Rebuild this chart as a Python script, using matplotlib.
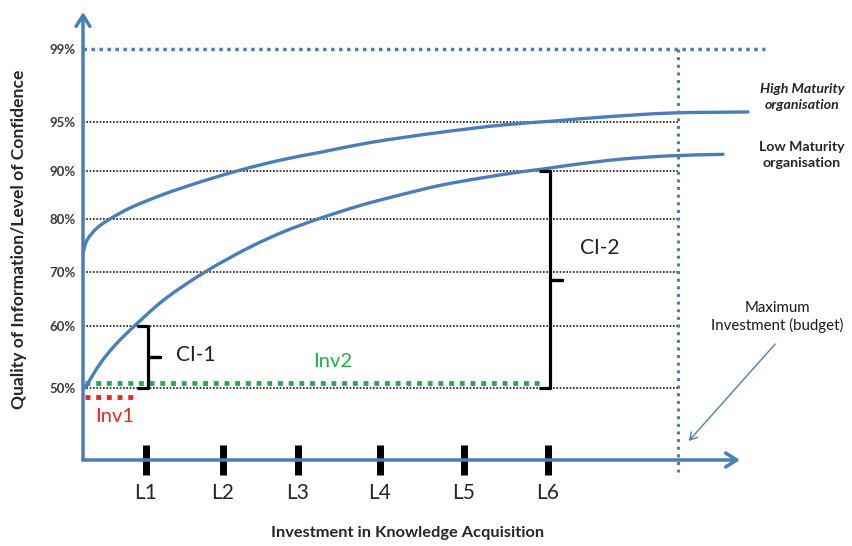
import numpy as np
import matplotlib
matplotlib.use('Agg')
import matplotlib.pyplot as plt
from matplotlib.path import Path
from matplotlib.patches import PathPatch, FancyArrowPatch

# ---------------- data ----------------
levels_pct = [50, 60, 70, 80, 90, 95, 99]
level_labels = ['50%', '60%', '70%', '80%', '90%', '95%', '99%']
stage_labels = ['L1', 'L2', 'L3', 'L4', 'L5', 'L6']
stage_invest = [63, 140, 215, 297, 381, 465]
budget_invest = 595

high_x = [0, 4, 14, 27, 47, 80, 114, 154, 197, 237, 287, 354, 420, 470, 520, 587, 665]
high_y = [73.6, 76.0, 78.3, 80.0, 82.3, 85.1, 87.5, 90.0, 91.1, 91.9, 92.9, 93.9, 94.7, 95.05, 95.27, 95.49, 95.55]
low_x = [2, 17, 32, 52, 82, 122, 167, 202, 235, 277, 317, 357, 397, 437, 460, 487, 537, 587, 640]
low_y = [50.0, 53.9, 56.9, 60.1, 65.0, 70.0, 74.7, 77.7, 80.0, 82.8, 85.0, 87.0, 88.5, 89.8, 90.2, 90.6, 91.2, 91.55, 91.7]

inv1_x = [2, 54]
inv1_level = 48.7
inv2_x = [2, 462]
inv2_level = 50.8
ci1 = (50, 60)   # at L1
ci2 = (50, 90)   # at L6

# ------------- layout / style -------------
W, H = 852, 546
BLUE = '#4A7EBB'
GREEN = '#1DB04B'
RED = '#EE2424'
TXT = '#262626'
plt.rcParams['font.family'] = ['Lato', 'DejaVu Sans']

# non-uniform vertical axis of the original diagram
SCALE_PCT = [30, 40, 50, 60, 70, 80, 90, 95, 99, 100, 110]
SCALE_POS = [-72, 0, 72, 134, 188, 241, 289, 338, 411, 448, 818]
fwd = lambda v: np.interp(v, SCALE_PCT, SCALE_POS)
inv = lambda p: np.interp(p, SCALE_POS, SCALE_PCT)

fig = plt.figure(figsize=(W / 100, H / 100), dpi=100)
ax = fig.add_axes([83 / W, (H - 460) / H, 690 / W, 448 / H])
ax.set_yscale('function', functions=(fwd, inv))
ax.set_xlim(0, 690)
ax.set_ylim(40, 100)
for s in ax.spines.values():
    s.set_visible(False)
scaled_to_display = ax.transLimits + ax.transAxes


def smooth_curve(xs, ys, **kw):
    """Draw a smooth (chord-length Catmull-Rom / cubic Bezier) curve through the points."""
    P = np.column_stack([np.asarray(xs, float), fwd(np.asarray(ys, float))])
    n = len(P)
    d = np.r_[0, np.cumsum(np.hypot(*np.diff(P, axis=0).T))]
    T = np.zeros_like(P)
    for i in range(n):
        a, b = max(i - 1, 0), min(i + 1, n - 1)
        T[i] = (P[b] - P[a]) / (d[b] - d[a])
    verts = [P[0]]
    codes = [Path.MOVETO]
    for i in range(n - 1):
        h = d[i + 1] - d[i]
        verts += [P[i] + T[i] * h / 3, P[i + 1] - T[i + 1] * h / 3, P[i + 1]]
        codes += [Path.CURVE4] * 3
    ax.add_patch(PathPatch(Path(verts, codes), fill=False, transform=scaled_to_display,
                           capstyle='round', **kw))


# grid lines
for lv in levels_pct[:-1]:
    ax.plot([0, budget_invest], [lv, lv], color='#1a1a1a', lw=1.2,
            linestyle=(0, (1, 1)), zorder=1)
ax.plot([0, 682], [99, 99], color=BLUE, lw=2.5, linestyle=(0, (1, 1.3)), zorder=1)
ax.plot([budget_invest, budget_invest], [99, 38.3], color=BLUE, lw=2.2,
        linestyle=(0, (1, 1.5)), zorder=1, clip_on=False)

# investment lines
ax.plot(inv2_x, [inv2_level] * 2, color=GREEN, lw=3.5, linestyle=(0, (1, 1.2)), zorder=3)
ax.plot(inv1_x, [inv1_level] * 2, color=RED, lw=3.5, linestyle=(0, (1, 1.2)), zorder=3,
        clip_on=False)

# curves
smooth_curve(high_x, high_y, edgecolor=BLUE, lw=2.4, zorder=4)
smooth_curve(low_x, low_y, edgecolor=BLUE, lw=2.4, zorder=4)

# axes arrows
for tip in [(0, 100), (657, 40)]:
    ax.annotate('', xy=tip, xytext=(0, 40), xycoords='data',
                arrowprops=dict(arrowstyle='->,head_length=0.8,head_width=0.5', lw=2.5,
                                color=BLUE, shrinkA=0, shrinkB=0),
                annotation_clip=False, zorder=5)


def brace(x, y0, y1, label, dx_text, dy_text):
    ymid = float(inv((fwd(y0) + fwd(y1)) / 2))
    xs = [x - 11, x, x, x + 12, x, x, x - 11]
    ys = [y1, y1, ymid, ymid, ymid, y0, y0]
    ax.plot(xs, ys, color='black', lw=2.3, solid_joinstyle='round',
            solid_capstyle='butt', zorder=5)
    ax.annotate(label, xy=(x + 12, ymid), xytext=(dx_text, dy_text),
                textcoords='offset pixels', ha='left', va='center',
                fontsize=15, color='#222222')


brace(stage_invest[0] + 2, ci1[0], ci1[1], 'CI-1', 16, 2)
brace(stage_invest[5] + 2, ci2[0], ci2[1], 'CI-2', 18, 31)

ax.annotate('Inv2', xy=(250, inv2_level), xytext=(0, 22), textcoords='offset pixels',
            ha='center', va='center', fontsize=14.5, color=GREEN)
ax.annotate('Inv1', xy=(32, inv1_level), xytext=(0, -19), textcoords='offset pixels',
            ha='center', va='center', fontsize=14.5, color=RED, annotation_clip=False)

# ticks
ax.set_yticks(levels_pct, level_labels)
ax.yaxis.set_minor_locator(matplotlib.ticker.NullLocator())
ax.tick_params(axis='y', length=0, pad=5, labelsize=9.5, labelcolor='#3a3a3a')
for t in ax.get_yticklabels():
    t.set_fontweight('bold')
ax.set_xticks(stage_invest, stage_labels)
ax.tick_params(axis='x', direction='inout', length=21.6, width=5, color='black',
               pad=6, labelsize=15, labelcolor=TXT)


def fx(x):
    return x / W


def fy(y):
    return 1 - y / H


fig.text(fx(408), fy(533), 'Investment in Knowledge Acquisition', ha='center', va='center',
         fontsize=11.8, fontweight='bold', color=TXT)
fig.text(fx(19), fy(239), 'Quality of Information/Level of Confidence', rotation=90,
         ha='center', va='center', fontsize=12.6, fontweight='bold', color=TXT)
fig.text(fx(802), fy(97), 'High Maturity\norganisation', ha='center', va='center',
         fontsize=10.2, fontweight='bold', fontstyle='italic', color=TXT, linespacing=1.35)
fig.text(fx(802), fy(155), 'Low Maturity\norganisation', ha='center', va='center',
         fontsize=10.2, fontweight='bold', color=TXT, linespacing=1.35)
fig.text(fx(777), fy(317), 'Maximum\nInvestment (budget)', ha='center', va='center',
         fontsize=10.8, color='#1a1a1a', linespacing=1.3)
fig.add_artist(FancyArrowPatch(
    (fx(777), fy(342)), (fx(687), fy(443)), transform=fig.transFigure,
    arrowstyle='->,head_length=5,head_width=3', lw=1, color=BLUE, mutation_scale=1))

fig.savefig('out.png', dpi=100)
